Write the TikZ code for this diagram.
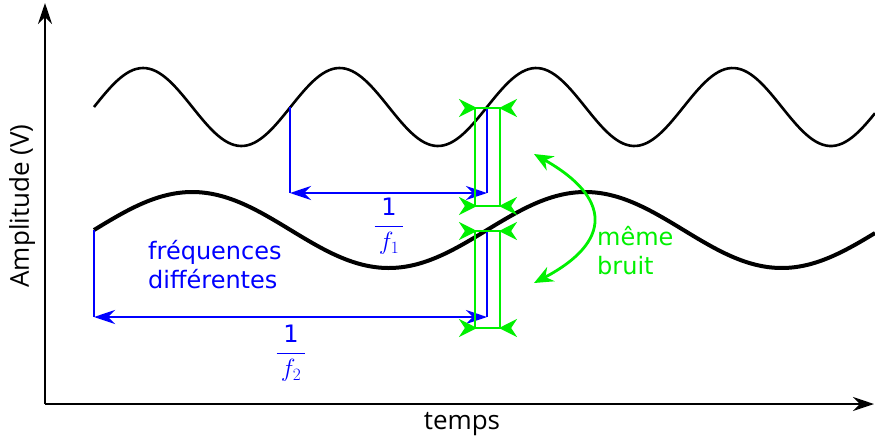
\documentclass[tikz,border=0pt]{standalone}
\usepackage{amsmath}
\usepackage{fontspec}
\setmainfont{DejaVu Sans}
\newfontfamily\axisfont{Open Sans}
\usetikzlibrary{arrows.meta}
\definecolor{bleuper}{RGB}{0,0,255}
\definecolor{vertbruit}{RGB}{0,240,0}
\tikzset{
  axe/.style={line width=2.6pt,-{Stealth[length=21pt,width=14pt]}},
  onde/.style={line width=2.6pt},
  ondeforte/.style={line width=4pt},
  periode/.style={bleuper,line width=2.8pt},
  cote/.style={periode,{Stealth[length=21pt,width=14pt]}-{Stealth[length=21pt,width=14pt]}},
  bruit/.style={vertbruit,line width=2.8pt},
  pince/.style={bruit,{Stealth[reversed,length=18pt,width=18pt]}-{Stealth[reversed,length=18pt,width=18pt]}},
  txt/.style={font=\fontsize{24}{29}\selectfont,align=left,inner sep=0pt},
  axetxt/.style={font=\axisfont\fontsize{26}{30}\selectfont},
  frac/.style={bleuper,font=\fontsize{26}{30}\selectfont},
}
\newcommand{\un}{\text{\fontsize{24}{28}\selectfont 1}}
\begin{document}
\begin{tikzpicture}[x=1pt,y=-1pt]
  \useasboundingbox (0,0) rectangle (875,440);
  % Axes
  \coordinate (O) at (45,404);
  \coordinate (ytop) at (45,3);
  \coordinate (xend) at (874,404);
  \draw[axe] (O) -- (ytop);
  \draw[axe] (O) -- (xend);
  \node[axetxt,rotate=90] (ylab) at (22,206) {Amplitude (V)};
  \node[axetxt] (xlab) at (462,424) {temps};
  % Signals
  \draw[onde] plot[domain=94:875,samples=240] (\x,{107-39*sin((\x-94)/196.5*360)});
  \draw[ondeforte] plot[domain=94:875,samples=240] (\x,{230-38*sin((\x-94)/393*360)});
  % Period 1
  \coordinate (a1) at (290,107);
  \coordinate (b1) at (487,107);
  \coordinate (a1bas) at (290,193);
  \coordinate (b1bas) at (487,193);
  \draw[periode] (a1) -- (a1bas);
  \draw[periode] (b1) -- (b1bas);
  \draw[cote] (a1bas) -- (b1bas);
  \node[frac] (f1lab) at (389,226) {$\dfrac{\un}{\,f_1\,}$};
  % Period 2
  \coordinate (a2) at (94,230);
  \coordinate (b2) at (487,230);
  \coordinate (a2bas) at (94,317);
  \coordinate (b2bas) at (487,317);
  \draw[periode] (a2) -- (a2bas);
  \draw[periode] (b2) -- (b2bas);
  \draw[cote] (a2bas) -- (b2bas);
  \node[frac] (f2lab) at (291,353) {$\dfrac{\un}{\,f_2\,}$};
  \node[txt,bleuper,anchor=north west] (freq) at (148,240) {fréquences\\différentes};
  % Noise windows
  \draw[bruit] (475,108) rectangle (500,206);
  \draw[bruit] (475,231) rectangle (500,328);
  \coordinate (p1g) at (459,108); \coordinate (p1d) at (517,108);
  \coordinate (p2g) at (459,206); \coordinate (p2d) at (517,206);
  \coordinate (p3g) at (459,231); \coordinate (p3d) at (517,231);
  \coordinate (p4g) at (459,328); \coordinate (p4d) at (517,328);
  \draw[pince] (p1g) -- (p1d);
  \draw[pince] (p2g) -- (p2d);
  \draw[pince] (p3g) -- (p3d);
  \draw[pince] (p4g) -- (p4d);
  \coordinate (nh) at (534,154);
  \coordinate (nb) at (534,283);
  \draw[bruit,{Stealth[length=19pt,width=16pt]}-{Stealth[length=19pt,width=16pt]}]
    (nh) .. controls (612,198) and (612,242) .. (nb);
  \node[txt,vertbruit,anchor=north west] (meme) at (597,226) {même\\bruit};
\end{tikzpicture}
\end{document}
